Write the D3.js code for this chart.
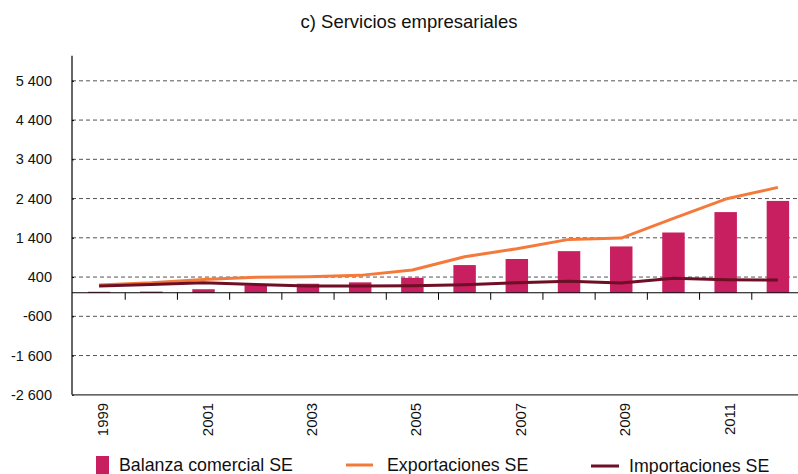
<!DOCTYPE html>
<html><head><meta charset="utf-8">
<script src="https://cdnjs.cloudflare.com/ajax/libs/d3/7.8.5/d3.min.js"></script>
<style>body{margin:0;background:#fff}svg{display:block;font-family:"Liberation Sans",Arial,sans-serif}</style>
</head><body><svg id="c" width="798" height="474"></svg>
<script>
const years = [1999,2000,2001,2002,2003,2004,2005,2006,2007,2008,2009,2010,2011,2012];
const balanza = [25,30,90,190,230,265,380,705,860,1060,1180,1535,2055,2340];
const exportaciones = [200,255,340,392,408,443,578,917,1121,1360,1394,1895,2387,2685];
const importaciones = [170,213,255,213,172,172,177,205,255,290,247,367,331,323];
const yTicks = [-2600,-1600,-600,400,1400,2400,3400,4400,5400];
const xTickYears = [1999,2001,2003,2005,2007,2009,2011];
const title = "c) Servicios empresariales";
const legendLabels = ["Balanza comercial SE","Exportaciones SE","Importaciones SE"];
const colors = {bar:"#C71F5F", exp:"#F47A3C", imp:"#6D0F25"};

const svg = d3.select("#c");
const x = d3.scaleBand().domain(years).range([73, 804]).paddingInner(0.57).paddingOuter(0.285);
const y = d3.scaleLinear().domain([-2600, 6040]).range([394.8, 55.7]);
const cx = d => x(d) + x.bandwidth()/2;
const fmtY = d => d3.format(",")(d).replace(/,/g, " ").replace("\u2212", "-");

svg.append("text").attr("x", 409).attr("y", 28).attr("text-anchor","middle")
  .attr("font-size", 18.5).attr("fill","#111").text(title);

// gridlines
svg.append("g").selectAll("line").data(yTicks.filter(t => t > -2600)).join("line")
  .attr("x1", 72).attr("x2", 798).attr("y1", d => y(d)).attr("y2", d => y(d))
  .attr("stroke", "#555").attr("stroke-width", 1).attr("stroke-dasharray", "4,3");

// y axis
const yAxis = svg.append("g").attr("transform","translate(72,0)")
  .call(d3.axisLeft(y).tickValues(yTicks).tickSize(9).tickPadding(11).tickFormat(fmtY));
yAxis.select(".domain").remove();
yAxis.selectAll(".tick line").attr("stroke","#000").attr("x2", 2);
yAxis.selectAll(".tick text").attr("font-size", 14.5).attr("fill","#111").attr("font-family",'"Liberation Sans",Arial,sans-serif');
svg.append("line").attr("x1",72).attr("x2",72).attr("y1",y(6040)).attr("y2",y(-2600)).attr("stroke","#000").attr("stroke-width",1.2);

// bottom line
svg.append("line").attr("x1",72).attr("x2",798).attr("y1",y(-2600)).attr("y2",y(-2600)).attr("stroke","#333").attr("stroke-width",1.2);

// bars
svg.append("g").selectAll("rect").data(years).join("rect")
  .attr("x", d => x(d)).attr("width", x.bandwidth())
  .attr("y", (d,i) => y(Math.max(0,balanza[i]))).attr("height", (d,i) => Math.abs(y(balanza[i]) - y(0)))
  .attr("fill", colors.bar);

// zero axis with ticks
const step = x.step();
const bounds = years.slice(1).map(d => x(d) - x.paddingInner()*step/2);
svg.append("line").attr("x1",72).attr("x2",798).attr("y1",y(0)).attr("y2",y(0)).attr("stroke","#000").attr("stroke-width",1.2);
svg.append("g").selectAll("line").data(bounds).join("line")
  .attr("x1", d => d).attr("x2", d => d).attr("y1", y(0)).attr("y2", y(0)+7)
  .attr("stroke","#000").attr("stroke-width",1);

// lines
const lineGen = arr => d3.line().x((d,i) => cx(years[i])).y(d => y(d)).curve(d3.curveLinear)(arr);
svg.append("path").attr("d", lineGen(exportaciones)).attr("fill","none").attr("stroke",colors.exp).attr("stroke-width",3).attr("stroke-linejoin","round");
svg.append("path").attr("d", lineGen(importaciones)).attr("fill","none").attr("stroke",colors.imp).attr("stroke-width",3).attr("stroke-linejoin","round");

// x labels
svg.append("g").selectAll("text").data(xTickYears).join("text")
  .attr("transform", d => `translate(${cx(d)+9},${y(-2600)+8}) rotate(-90)`)
  .attr("text-anchor","end").attr("font-size",15).attr("fill","#111").text(d => d);

// legend
const lg = svg.append("g");
lg.append("rect").attr("x",96).attr("y",456).attr("width",13).attr("height",18).attr("fill",colors.bar);
lg.append("text").attr("x",119).attr("y",471).attr("font-size",17.8).attr("fill","#111").text(legendLabels[0]);
lg.append("line").attr("x1",346).attr("x2",373).attr("y1",465).attr("y2",465).attr("stroke",colors.exp).attr("stroke-width",3);
lg.append("text").attr("x",387).attr("y",471).attr("font-size",17.8).attr("fill","#111").text(legendLabels[1]);
lg.append("line").attr("x1",591).attr("x2",619).attr("y1",466).attr("y2",466).attr("stroke",colors.imp).attr("stroke-width",3);
lg.append("text").attr("x",629).attr("y",472).attr("font-size",17.8).attr("fill","#111").text(legendLabels[2]);
</script></body></html>
